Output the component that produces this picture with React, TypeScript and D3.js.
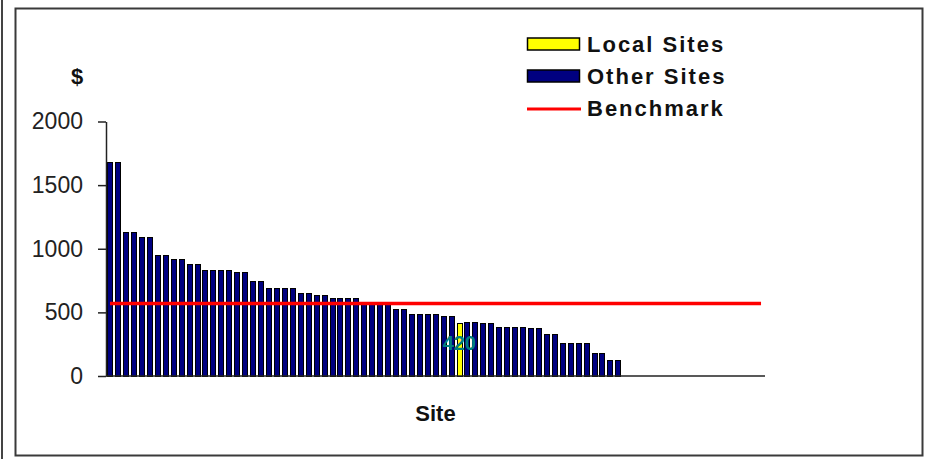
import { useEffect, useRef } from "react"
import * as d3 from "d3"

// * Cost per site, sorted high to low (one Local site, the rest Other)
const siteCosts = [
  1680, 1680, 1130, 1130, 1090, 1090, 950, 950, 920, 920, 880, 880, 835, 835, 835, 835, 820, 820, 750, 750,
  695, 695, 695, 695, 655, 655, 640, 640, 610, 610, 610, 610, 565, 565, 565, 565, 525, 525, 490, 490,
  490, 490, 470, 470, 420, 428, 428, 416, 416, 385, 385, 385, 385, 375, 375, 330, 330, 260, 260, 260,
  260, 180, 180, 125, 125,
]
const localSiteIndex = [44]
const totalSites = 83
const benchmark = 570
const yTicks = [0, 500, 1000, 1500, 2000]
const legendItems = ["Local Sites", "Other Sites", "Benchmark"]

const FONT = "'Liberation Sans', Arial, sans-serif"

export default function App() {
  const svgRef = useRef<SVGSVGElement>(null)

  useEffect(() => {
    if (!svgRef.current) return
    const svg = d3.select(svgRef.current)
    svg.selectAll("*").remove()

    const width = 930
    const height = 459
    svg.attr("width", width).attr("height", height)

    // * Outer frame
    svg.append("rect").attr("width", width).attr("height", height).attr("fill", "#fff")
    svg
      .append("line")
      .attr("x1", 2)
      .attr("x2", 2)
      .attr("y1", 0)
      .attr("y2", height)
      .attr("stroke", "#444")
      .attr("stroke-width", 2)
    svg
      .append("rect")
      .attr("x", 15.5)
      .attr("y", 8.5)
      .attr("width", 907)
      .attr("height", 447)
      .attr("fill", "#fff")
      .attr("stroke", "#3a3a3a")
      .attr("stroke-width", 2)

    const plot = { left: 106, right: 765, top: 121.5, bottom: 376 }

    const sites = d3.range(totalSites)
    const x = d3
      .scaleBand<number>()
      .domain(sites)
      .range([plot.left, plot.right])
      .paddingInner(0.3)
      .paddingOuter(0.15)
    const y = d3.scaleLinear().domain([0, 2000]).range([plot.bottom, plot.top])

    // * Bars (pixel-snapped so the gaps between them stay visible)
    svg
      .append("g")
      .attr("shape-rendering", "crispEdges")
      .selectAll("rect")
      .data(siteCosts)
      .join("rect")
      .attr("x", (_, i) => Math.round(x(i)!) + 0.5)
      .attr("y", (d) => Math.round(y(d)) + 0.5)
      .attr("width", 5)
      .attr("height", (d) => y(0) - Math.round(y(d)) - 0.5)
      .attr("fill", (_, i) => (localSiteIndex.includes(i) ? "#ffff00" : "#000080"))
      .attr("stroke", "#000")
      .attr("stroke-width", 1)

    // * Value label on the local site
    localSiteIndex.forEach((i) => {
      svg
        .append("text")
        .attr("x", x(i)! + x.bandwidth() / 2)
        .attr("y", y(siteCosts[i]) + 27)
        .attr("text-anchor", "middle")
        .attr("font-family", FONT)
        .attr("font-size", "20px")
        .attr("font-weight", "700")
        .attr("fill", "#008080")
        .text(siteCosts[i])
    })

    // * Benchmark line across all sites
    const line = d3
      .line<number>()
      .x((d) => x(d)! + x.bandwidth() / 2)
      .y(() => y(benchmark))
    svg
      .append("path")
      .datum(sites)
      .attr("d", line)
      .attr("fill", "none")
      .attr("stroke", "#ff0000")
      .attr("stroke-width", 3.5)

    // * Axes
    const yAxis = svg
      .append("g")
      .attr("transform", `translate(${plot.left},0)`)
      .call(
        d3
          .axisLeft(y)
          .tickValues(yTicks)
          .tickFormat(d3.format("d"))
          .tickSize(8)
          .tickSizeOuter(0)
          .tickPadding(15)
      )
    yAxis.select(".domain").attr("stroke", "#222").attr("stroke-width", 1.5)
    yAxis.selectAll(".tick line").attr("stroke", "#222").attr("stroke-width", 1.5)
    yAxis
      .selectAll(".tick text")
      .attr("font-family", FONT)
      .attr("font-size", "23px")
      .attr("fill", "#222")

    svg
      .append("line")
      .attr("x1", plot.left)
      .attr("x2", plot.right)
      .attr("y1", plot.bottom)
      .attr("y2", plot.bottom)
      .attr("stroke", "#222")
      .attr("stroke-width", 1.5)

    // * Axis titles
    svg
      .append("text")
      .attr("x", 77)
      .attr("y", 84)
      .attr("text-anchor", "middle")
      .attr("font-family", FONT)
      .attr("font-size", "22px")
      .attr("font-weight", "700")
      .attr("fill", "#111")
      .text("$")

    svg
      .append("text")
      .attr("x", (plot.left + plot.right) / 2)
      .attr("y", 421)
      .attr("text-anchor", "middle")
      .attr("font-family", FONT)
      .attr("font-size", "22px")
      .attr("font-weight", "700")
      .attr("fill", "#111")
      .text("Site")

    // * Legend
    const legend = svg.append("g").attr("transform", "translate(527,44)")
    legendItems.forEach((label, i) => {
      const row = legend.append("g").attr("transform", `translate(0,${i * 32})`)
      if (i < 2) {
        row
          .append("rect")
          .attr("x", 0.5)
          .attr("y", -6)
          .attr("width", 52)
          .attr("height", 12)
          .attr("fill", i === 0 ? "#ffff00" : "#000080")
          .attr("stroke", "#000")
          .attr("stroke-width", 1.5)
      } else {
        row
          .append("line")
          .attr("x1", 0)
          .attr("x2", 54)
          .attr("y1", 1)
          .attr("y2", 1)
          .attr("stroke", "#ff0000")
          .attr("stroke-width", 3)
      }
      row
        .append("text")
        .attr("x", 60)
        .attr("y", 8)
        .attr("font-family", FONT)
        .attr("font-size", "22px")
        .attr("font-weight", "700")
        .attr("letter-spacing", "2px")
        .attr("fill", "#111")
        .text(label)
    })
  }, [])

  return (
    <div style={{ position: "absolute", left: 0, top: 0 }}>
      <svg ref={svgRef} style={{ display: "block" }}></svg>
    </div>
  )
}
